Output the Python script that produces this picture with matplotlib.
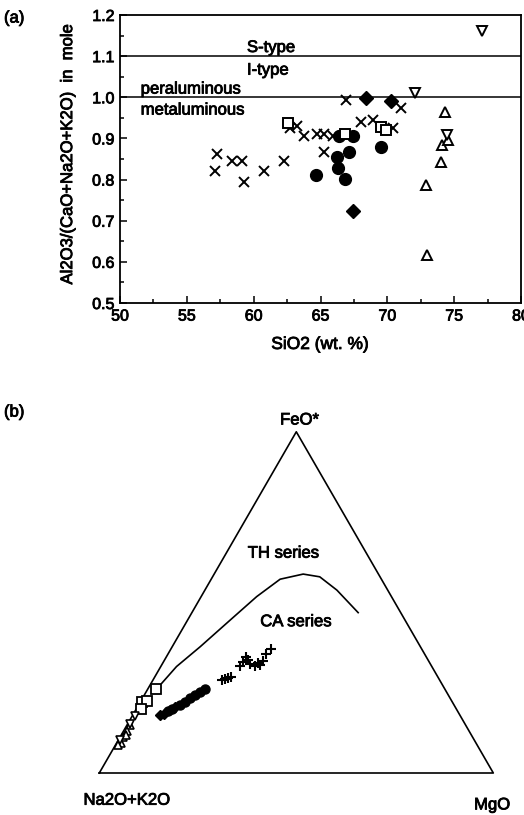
import matplotlib
matplotlib.use("Agg")
import matplotlib.pyplot as plt
import matplotlib.patheffects as pe
import matplotlib.text as mtext
import numpy as np

plt.rcParams['font.family'] = ['Liberation Sans', 'DejaVu Sans']

# ---------------- Panel (a) data: SiO2 (wt.%) vs A/CNK ----------------
cross_si = [57.1, 57.25, 58.4, 59.1, 59.25, 60.75, 62.3, 62.75, 63.25, 63.75, 64.75,
            65.25, 65.25, 65.95, 66.9, 68.05, 68.9, 70.4, 71.0]
cross_acnk = [0.820, 0.863, 0.844, 0.844, 0.795, 0.821, 0.846, 0.925, 0.931, 0.906, 0.911,
              0.911, 0.866, 0.905, 0.994, 0.939, 0.945, 0.925, 0.973]
circ_si = [64.7, 66.25, 66.3, 66.8, 67.1, 66.4, 67.4, 69.55]
circ_acnk = [0.810, 0.855, 0.828, 0.802, 0.867, 0.905, 0.906, 0.878]
diam_si = [68.4, 70.25, 67.45]
diam_acnk = [0.999, 0.990, 0.724]
sq_si = [62.55, 66.8, 69.5, 69.9]
sq_acnk = [0.937, 0.910, 0.927, 0.921]
tup_si = [74.3, 74.1, 74.55, 74.0, 72.9, 73.0]
tup_acnk = [0.965, 0.884, 0.897, 0.842, 0.787, 0.617]
tdn_si = [77.05, 72.1, 74.5]
tdn_acnk = [1.160, 1.010, 0.909]
boundary_levels = [1.1, 1.0]
xtick_vals = [50, 55, 60, 65, 70, 75, 80]
ytick_vals = [0.5, 0.6, 0.7, 0.8, 0.9, 1.0, 1.1, 1.2]
ytick_labels = ['0.5', '0.6', '0.7', '0.8', '0.9', '1.0', '1.1', '1.2']

# ---------------- Panel (b) data: AFM ternary (FeO*, MgO in %; A = 100-F-M) ----------------
curve_F = [26.3, 31.2, 37.0, 44.8, 51.7, 56.8, 58.3, 57.5, 53.6, 47.0]
curve_M = [2.7, 4.0, 7.1, 10.8, 14.1, 17.5, 22.6, 27.2, 33.5, 42.2]
t_sq_F = [24.6, 20.8, 21.1, 18.8]
t_sq_M = [2.1, 0.4, 1.5, 1.2]
t_tup_F = [14.1, 12.3, 10.6, 8.8, 8.2, 11.1]
t_tup_M = [0.8, 0.8, 0.7, 1.1, 0.6, 1.2]
t_tdn_F = [14.4, 16.7, 9.7]
t_tdn_M = [0.5, 0.6, 0.5]
t_diam_F = [17.0, 17.3, 19.3]
t_diam_M = [6.9, 7.7, 9.5]
t_circ_F = [18.2, 18.8, 19.9, 20.8, 22.0, 22.9, 23.7, 24.6]
t_circ_M = [8.3, 9.1, 10.5, 11.4, 12.0, 12.9, 13.7, 14.5]
t_cross_F = [27.3, 27.5, 27.8, 28.1, 31.4, 32.5, 34.0, 33.1, 31.9, 31.4, 32.2, 31.7,
             32.8, 34.9, 36.3]
t_cross_M = [17.5, 18.1, 18.8, 19.3, 20.0, 20.2, 20.2, 21.1, 22.2, 23.8, 24.2, 25.0,
             25.1, 24.9, 25.4]


def tern(F, M):
    F = np.asarray(F) / 100.0
    M = np.asarray(M) / 100.0
    x = M + 0.5 * F
    y = np.sqrt(3) / 2 * F
    return x, y


W, H = 524, 815
FS = 12
fig = plt.figure(figsize=(W / 100, H / 100), dpi=100)

# ---------------- Panel (a) ----------------
ax = fig.add_axes([120 / W, (H - 303) / H, 401 / W, 288 / H])
ax.set_xlim(50, 80)
ax.set_ylim(0.5, 1.2)
for lv in boundary_levels:
    ax.axhline(lv, color='black', lw=1.1)

mk = dict(linestyle='none', color='black')
ax.plot(cross_si, cross_acnk, marker='x', ms=6.5, mew=1.4, **mk)
ax.plot(circ_si, circ_acnk, marker='o', ms=8.5, **mk)
ax.plot(diam_si, diam_acnk, marker='D', ms=7.5, **mk)
ax.plot(sq_si, sq_acnk, marker='s', ms=7.5, mfc='white', mew=1.4, **mk)
ax.plot(tup_si, tup_acnk, marker='^', ms=7.5, mfc='white', mew=1.4, **mk)
ax.plot(tdn_si, tdn_acnk, marker='v', ms=7.5, mfc='white', mew=1.4, **mk)

ax.text(59.5, 1.121, 'S-type', fontsize=FS, ha='left', va='center')
ax.text(59.5, 1.066, 'I-type', fontsize=FS, ha='left', va='center')
ax.text(51.55, 1.020, 'peraluminous', fontsize=FS, ha='left', va='center')
ax.text(51.55, 0.969, 'metaluminous', fontsize=FS, ha='left', va='center')

ax.set_xticks(xtick_vals)
ax.set_xticks(np.arange(50, 80.1, 2.5), minor=True)
ax.set_yticks(ytick_vals)
ax.set_yticklabels(ytick_labels)
ax.set_yticks(np.arange(0.5, 1.201, 0.05), minor=True)
ax.tick_params(which='both', direction='in', labelsize=11.5, width=1.1)
ax.tick_params(which='major', length=5, pad=4)
ax.tick_params(which='minor', length=3)
for s in ax.spines.values():
    s.set_linewidth(1.3)
ax.set_xlabel('SiO2 (wt. %)', fontsize=12.5)
ax.xaxis.set_label_coords(0.499, -0.118)
ax.set_ylabel('Al2O3/(CaO+Na2O+K2O)  in  mole', fontsize=FS)
ax.yaxis.set_label_coords(-0.112, 0.517)
fig.text(4 / W, (H - 18) / H, '(a)', fontsize=FS, ha='left', va='center')

# ---------------- Panel (b) ternary ----------------
bx = fig.add_axes([99.3 / W, (H - 773) / H, 394 / W, 341.2 / H])
bx.set_xlim(0, 1)
bx.set_ylim(0, np.sqrt(3) / 2)
bx.axis('off')
tri_x = [0, 1, 0.5, 0]
tri_y = [0, 0, np.sqrt(3) / 2, 0]
bx.plot(tri_x, tri_y, color='black', lw=1.2, clip_on=False)

cx, cy = tern(curve_F, curve_M)
bx.plot(cx, cy, color='black', lw=1.2)

x, y = tern(t_cross_F, t_cross_M)
bx.plot(x, y, marker='+', ms=7, mew=1.5, clip_on=False, **mk)
x, y = tern(t_circ_F, t_circ_M)
bx.plot(x, y, marker='o', ms=6.5, clip_on=False, **mk)
x, y = tern(t_diam_F, t_diam_M)
bx.plot(x, y, marker='D', ms=5.5, clip_on=False, **mk)
x, y = tern(t_sq_F, t_sq_M)
bx.plot(x, y, marker='s', ms=6.5, mfc='white', mew=1.3, clip_on=False, **mk)
x, y = tern(t_tup_F, t_tup_M)
bx.plot(x, y, marker='^', ms=5.5, mfc='white', mew=1.2, clip_on=False, **mk)
x, y = tern(t_tdn_F, t_tdn_M)
bx.plot(x, y, marker='v', ms=5.5, mfc='white', mew=1.2, clip_on=False, **mk)

bx.text(0.467, 0.558, 'TH series', fontsize=FS, ha='center', va='center')
bx.text(0.499, 0.384, 'CA series', fontsize=FS, ha='center', va='center')
bx.text(0.508, 0.896, 'FeO*', fontsize=FS, ha='center', va='center', clip_on=False)
bx.text(0.07, -0.069, 'Na2O+K2O', fontsize=FS, ha='center', va='center', clip_on=False)
bx.text(0.997, -0.081, 'MgO', fontsize=FS, ha='center', va='center', clip_on=False)
fig.text(4 / W, (H - 412) / H, '(b)', fontsize=FS, ha='left', va='center')

for t in fig.findobj(mtext.Text):
    t.set_path_effects([pe.withStroke(linewidth=0.6, foreground='black')])

fig.savefig('out.png', dpi=100)
